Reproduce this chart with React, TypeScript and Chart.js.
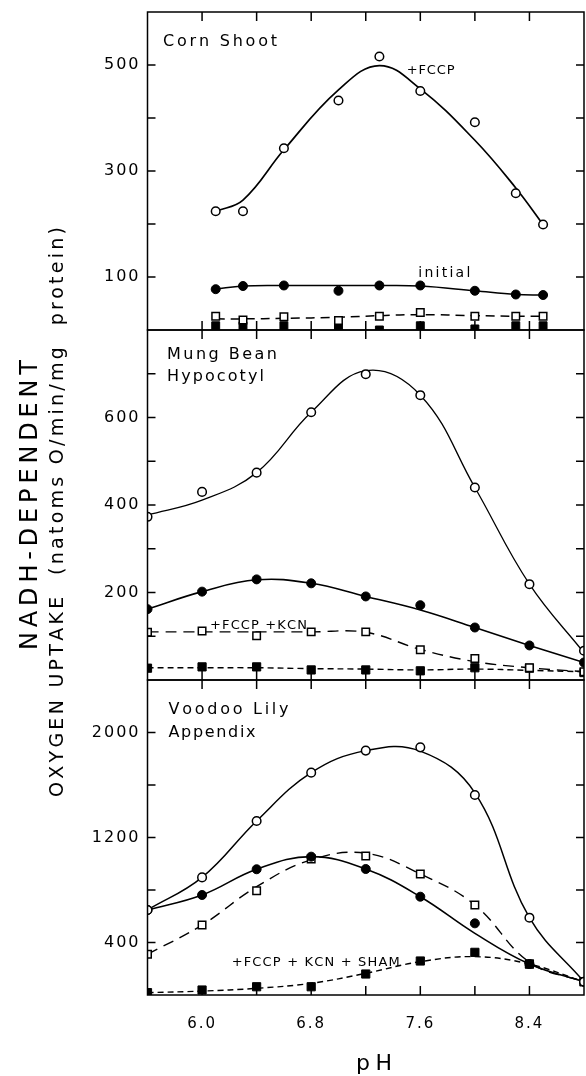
import React, { useEffect, useRef } from 'react';
import { Chart, registerables } from 'chart.js';
Chart.register(...registerables);

const FONT = "'DejaVu Sans', sans-serif";

// ---------- Corn Shoot ----------
const cornPH = [6.1, 6.3, 6.6, 7.0, 7.3, 7.6, 8.0, 8.3, 8.5];
const cornFCCP = [224, 224, 343, 433, 516, 451, 392, 258, 199];
const cornFCCPFit = [224, 245, 340, 453, 499, 455, 358, 268, 199];
const cornInitial = [77, 83, 84, 74, 84, 84, 74, 67, 66];
const cornInitialFit = [77, 83, 84, 84, 84, 83, 74, 67, 66];
const cornKCN = [26, 19, 25, 18, 26, 33, 26, 26, 26];
const cornKCNFit = [21, 21, 22, 24, 27, 29, 27, 26, 26];
const cornSHAM = [8, 8, 8, 4, 0, 8, 2, 8, 8];

// ---------- Mung Bean Hypocotyl / Voodoo Lily Appendix ----------
const pH = [5.6, 6.0, 6.4, 6.8, 7.2, 7.6, 8.0, 8.4, 8.8];
const mungFCCP = [373, 430, 474, 612, 699, 651, 440, 219, 67];
const mungFCCPFit = [377, 411, 474, 612, 707, 651, 440, 219, 62];
const mungInitial = [162, 202, 230, 221, 191, 171, 120, 79, 40];
const mungInitialFit = [162, 202, 229, 221, 191, 160, 120, 79, 40];
const mungKCN = [109, 112, 101, 110, 110, 69, 49, 28, 19];
const mungKCNFit = [110, 110, 110, 110, 109, 70, 42, 28, 19];
const mungSHAM = [27, 30, 30, 23, 23, 21, 28, 27, 17];
const mungSHAMFit = [28, 28, 28, 26, 25, 23, 25, 22, 19];

const lilyFCCP = [648, 896, 1326, 1694, 1862, 1887, 1524, 589, 101];
const lilyFCCPFit = [648, 896, 1326, 1694, 1862, 1858, 1540, 589, 101];
const lilyInitial = [647, 762, 958, 1054, 960, 749, 546, 236, 101];
const lilyInitialFit = [647, 762, 958, 1054, 960, 749, 470, 236, 101];
const lilyKCN = [310, 533, 795, 1036, 1059, 922, 686, 236, 101];
const lilyKCNFit = [310, 533, 825, 1030, 1080, 922, 686, 250, 101];
const lilySHAM = [18, 38, 63, 63, 160, 259, 325, 236, 101];
const lilySHAMFit = [18, 30, 51, 89, 165, 254, 292, 236, 101];

// ---------- ticks ----------
const cornTickLabels = [100, 300, 500];
const mungTickLabels = [200, 400, 600];
const lilyTickLabels = [400, 1200, 2000];
const pHTickLabels = [6.0, 6.8, 7.6, 8.4];

const pts = (xs: number[], ys: number[]) => xs.map((x, i) => ({ x, y: ys[i] }));

function curve(xs: number[], ys: number[], axis: string, dash: number[], width = 1.5) {
  return {
    data: pts(xs, ys),
    yAxisID: axis,
    showLine: true,
    borderColor: '#000',
    borderWidth: width,
    borderDash: dash,
    pointRadius: 0,
    pointHoverRadius: 0,
    tension: 0.4,
    fill: false,
    order: 10,
  };
}

function markers(xs: number[], ys: number[], axis: string, style: string, filled: boolean, radius: number, order: number) {
  return {
    data: pts(xs, ys),
    yAxisID: axis,
    showLine: false,
    pointStyle: style,
    pointRadius: radius,
    pointHoverRadius: radius,
    pointBackgroundColor: filled ? '#000' : '#fff',
    pointBorderColor: '#000',
    pointBorderWidth: filled ? 1 : 1.5,
    order,
  };
}

function spaced(ctx: CanvasRenderingContext2D, text: string, x: number, y: number, width: number, align: 'left' | 'center' = 'left') {
  (ctx as any).letterSpacing = '0px';
  ctx.textAlign = 'left';
  const chars = Array.from(text);
  const ws = chars.map((c) => ctx.measureText(c).width);
  const natural = ws.reduce((a, b) => a + b, 0);
  const gap = chars.length > 1 ? (width - natural) / (chars.length - 1) : 0;
  let cx = align === 'center' ? x - width / 2 : x;
  chars.forEach((c, i) => {
    ctx.fillText(c, cx, y);
    cx += ws[i] + gap;
  });
}

const decor = {
  id: 'decor',
  beforeDraw(chart: any) {
    chart.ctx.letterSpacing = '2px';
  },
  afterDatasetsDraw(chart: any) {
    const { ctx, chartArea: ca, scales } = chart;
    const xs = scales.x;
    ctx.save();
    ctx.strokeStyle = '#000';
    ctx.lineWidth = 1.5;
    ['yC', 'yM', 'yV'].forEach((id) => {
      const s = scales[id];
      ctx.strokeRect(ca.left, s.top, ca.right - ca.left, s.bottom - s.top);
      ctx.beginPath();
      s.ticks.forEach((t: any) => {
        if (t.value <= s.min || t.value >= s.max) return;
        const py = s.getPixelForValue(t.value);
        ctx.moveTo(ca.left, py);
        ctx.lineTo(ca.left + 8, py);
        ctx.moveTo(ca.right, py);
        ctx.lineTo(ca.right - 8, py);
      });
      xs.ticks.forEach((t: any) => {
        if (t.value <= xs.min + 1e-6 || t.value >= xs.max - 1e-6) return;
        const px = xs.getPixelForValue(t.value);
        ctx.moveTo(px, s.top);
        ctx.lineTo(px, s.top + 9);
        ctx.moveTo(px, s.bottom);
        ctx.lineTo(px, s.bottom - 9);
      });
      ctx.stroke();
    });
    ctx.restore();
  },
  afterDraw(chart: any) {
    const { ctx, chartArea: ca, scales } = chart;
    const xs = scales.x;
    ctx.save();
    ctx.fillStyle = '#000';
    ctx.textBaseline = 'alphabetic';

    // panel labels
    ctx.font = `16px ${FONT}`;
    const yC = scales.yC, yM = scales.yM, yV = scales.yV;
    spaced(ctx, 'Corn Shoot', ca.left + 15.5, yC.top + 34, 114);
    spaced(ctx, 'Mung Bean', ca.left + 19.5, yM.top + 29, 110);
    spaced(ctx, 'Hypocotyl', ca.left + 19.5, yM.top + 51, 97);
    spaced(ctx, 'Voodoo Lily', ca.left + 21, yV.top + 34, 120);
    spaced(ctx, 'Appendix', ca.left + 21, yV.top + 57, 87);

    // annotations
    ctx.font = `13px ${FONT}`;
    spaced(ctx, '+FCCP', xs.getPixelForValue(7.5), yC.getPixelForValue(483), 48);
    ctx.font = `14px ${FONT}`;
    spaced(ctx, 'initial', xs.getPixelForValue(7.585), yC.getPixelForValue(100), 52);
    ctx.font = `13px ${FONT}`;
    spaced(ctx, '+FCCP +KCN', xs.getPixelForValue(6.058), yM.getPixelForValue(116), 97);
    spaced(ctx, '+FCCP + KCN + SHAM', xs.getPixelForValue(6.217), yV.getPixelForValue(221), 168);

    // x title
    ctx.font = `22px ${FONT}`;
    spaced(ctx, 'pH', 374, 1070, 36, 'center');

    // y titles (rotated)
    ctx.save();
    ctx.translate(36.5, 505);
    ctx.rotate(-Math.PI / 2);
    ctx.font = `24px ${FONT}`;
    spaced(ctx, 'NADH-DEPENDENT', 0, 0, 290, 'center');
    ctx.restore();

    ctx.save();
    ctx.translate(63, 512);
    ctx.rotate(-Math.PI / 2);
    ctx.font = `19px ${FONT}`;
    spaced(ctx, 'OXYGEN UPTAKE  (natoms O/min/mg  protein)', 0, 0, 570, 'center');
    ctx.restore();

    ctx.restore();
  },
};

function yScale(min: number, max: number, step: number, labels: number[], weight: number) {
  return {
    type: 'linear',
    position: 'left',
    stack: 'panels',
    stackWeight: weight,
    min,
    max,
    grid: { display: false, drawTicks: false },
    border: { display: false },
    ticks: {
      stepSize: step,
      padding: 7,
      color: '#000',
      font: { family: FONT, size: 16 },
      callback: (v: number) => (labels.includes(v) ? String(v) : ''),
    },
    afterFit: (s: any) => {
      s.width = 147.5;
      s.paddingTop = 0;
      s.paddingBottom = 0;
    },
  };
}

export default function App() {
  const ref = useRef<HTMLCanvasElement>(null);
  useEffect(() => {
    const datasets: any[] = [
      // Corn
      markers(cornPH, cornFCCP, 'yC', 'circle', false, 4.3, 1),
      markers(cornPH, cornInitial, 'yC', 'circle', true, 4.5, 2),
      markers(cornPH, cornKCN, 'yC', 'rect', false, 5.3, 3),
      markers(cornPH, cornSHAM, 'yC', 'rect', true, 5.6, 4),
      curve(cornPH, cornFCCPFit, 'yC', [], 1.7),
      curve(cornPH, cornInitialFit, 'yC', [], 1.5),
      curve(cornPH, cornKCNFit, 'yC', [9, 6], 1.5),
      // Mung
      markers(pH, mungFCCP, 'yM', 'circle', false, 4.3, 1),
      markers(pH, mungInitial, 'yM', 'circle', true, 4.5, 2),
      markers(pH, mungKCN, 'yM', 'rect', false, 5.3, 3),
      markers(pH, mungSHAM, 'yM', 'rect', true, 5.8, 4),
      curve(pH, mungFCCPFit, 'yM', [], 1.3),
      curve(pH, mungInitialFit, 'yM', [], 1.6),
      curve(pH, mungKCNFit, 'yM', [11, 7], 1.4),
      curve(pH, mungSHAMFit, 'yM', [6, 4], 1.4),
      // Voodoo Lily
      markers(pH, lilyFCCP, 'yV', 'circle', false, 4.3, 1),
      markers(pH, lilyInitial, 'yV', 'circle', true, 4.5, 2),
      markers(pH, lilyKCN, 'yV', 'rect', false, 5.3, 3),
      markers(pH, lilySHAM, 'yV', 'rect', true, 5.8, 4),
      curve(pH, lilyFCCPFit, 'yV', [], 1.5),
      curve(pH, lilyInitialFit, 'yV', [], 1.6),
      curve(pH, lilyKCNFit, 'yV', [11, 7], 1.4),
      curve(pH, lilySHAMFit, 'yV', [6, 4], 1.4),
    ];

    const chart = new Chart(ref.current as HTMLCanvasElement, {
      type: 'scatter',
      data: { datasets },
      options: {
        animation: false,
        responsive: false,
        devicePixelRatio: 1,
        events: [],
        layout: { autoPadding: false, padding: { top: 12, right: 2, left: 0, bottom: 0 } },
        plugins: { legend: { display: false }, tooltip: { enabled: false }, title: { display: false } },
        scales: {
          x: {
            type: 'linear',
            position: 'bottom',
            min: 5.6,
            max: 8.8,
            grid: { display: false, drawTicks: true, tickLength: 20 },
            border: { display: false },
            ticks: {
              stepSize: 0.4,
              padding: 0,
              color: '#000',
              maxRotation: 0,
              autoSkip: false,
              font: { family: FONT, size: 15 },
              callback: (v: number) => {
                const hit = pHTickLabels.find((p) => Math.abs(p - v) < 1e-6);
                return hit !== undefined ? hit.toFixed(1) : '';
              },
            },
            afterFit: (s: any) => {
              s.height = 81;
              s.paddingLeft = 0;
              s.paddingRight = 0;
            },
          },
          yV: yScale(0, 2400, 400, lilyTickLabels, 315),
          yM: yScale(0, 800, 100, mungTickLabels, 350),
          yC: yScale(0, 600, 100, cornTickLabels, 318),
        } as any,
      },
      plugins: [decor],
    } as any);
    return () => chart.destroy();
  }, []);

  return (
    <div style={{ position: 'absolute', left: 0, top: 0, width: 586, height: 1076, background: '#fff' }}>
      <canvas ref={ref} width={586} height={1076} style={{ display: 'block' }} />
    </div>
  );
}
